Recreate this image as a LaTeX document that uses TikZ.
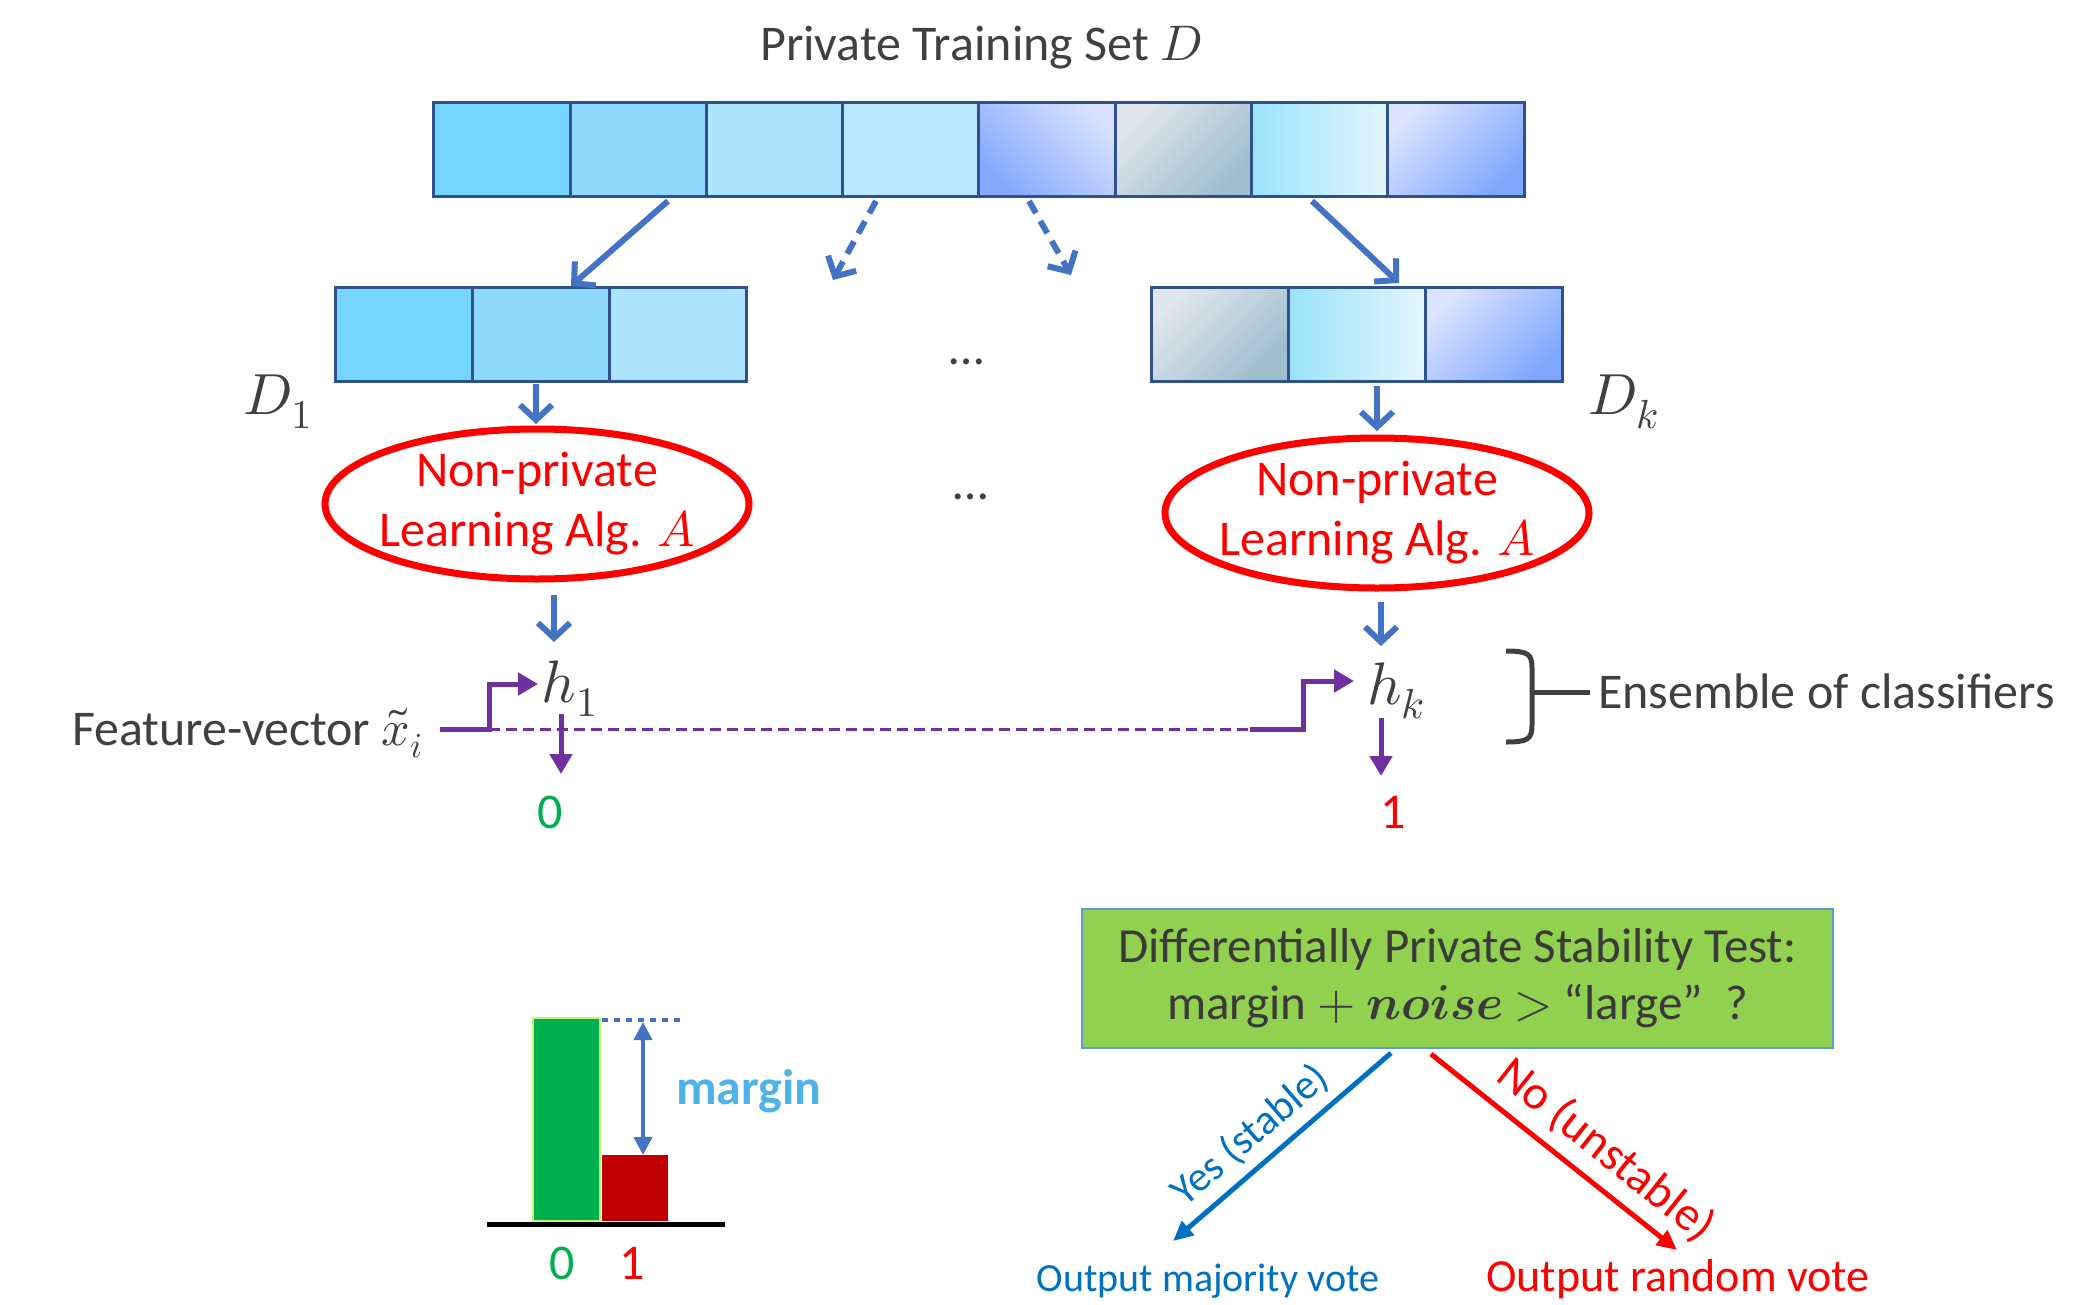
\documentclass[tikz,border=0pt]{standalone}
\usepackage{fontspec}
\usepackage{unicode-math}
\setmainfont{Carlito}
\setmathfont{Latin Modern Math}
\usetikzlibrary{arrows.meta,shapes.geometric}
\definecolor{txt}{HTML}{404040}
\definecolor{cellborder}{HTML}{2F528F}
\definecolor{arrowblue}{HTML}{4472C4}
\definecolor{purp}{HTML}{7030A0}
\definecolor{cA}{HTML}{75D5FF}
\definecolor{cB}{HTML}{8FDAFC}
\definecolor{cC}{HTML}{ADE4FD}
\definecolor{cD}{HTML}{B9E7FD}
\definecolor{gEa}{HTML}{86A9FF}
\definecolor{gEb}{HTML}{D7E1FF}
\definecolor{gFa}{HTML}{E1E7ED}
\definecolor{gFb}{HTML}{9EBDCD}
\definecolor{gGa}{HTML}{9BE3FB}
\definecolor{gGb}{HTML}{E3F6FD}
\definecolor{gHa}{HTML}{DCE3FF}
\definecolor{gHb}{HTML}{7FA7FF}
\definecolor{okgreen}{HTML}{00B050}
\definecolor{boxgreen}{HTML}{92D050}
\definecolor{boxedge}{HTML}{5B9BD5}
\definecolor{darkred}{HTML}{C00000}
\definecolor{yesblue}{HTML}{0070C0}
\definecolor{marginblue}{HTML}{4DB3E8}
\definecolor{boxtext}{HTML}{3A3A3A}
\definecolor{baredge}{HTML}{C8F078}
\tikzset{
  cellbase/.style={draw=cellborder, line width=3pt, minimum height=94pt, inner sep=0pt},
  topcell/.style={cellbase, minimum width=136.25pt},
  subcell/.style={cellbase, minimum width=137.3pt},
  cellA/.style={fill=cA}, cellB/.style={fill=cB}, cellC/.style={fill=cC}, cellD/.style={fill=cD},
  cellE/.style={top color=gEa, bottom color=gEb, shading angle=135},
  cellF/.style={top color=gFa, bottom color=gFb, shading angle=45},
  cellG/.style={top color=gGa, bottom color=gGb, shading angle=90},
  cellH/.style={top color=gHa, bottom color=gHb, shading angle=45},
  bigtext/.style={font=\fontsize{50}{60}\selectfont, text=txt, inner sep=0pt},
  alg/.style={ellipse, draw=red, line width=7pt, minimum width=424pt, minimum height=150pt, inner sep=0pt},
  algtext/.style={inner sep=0pt, align=center, text=red, font=\fontsize{50}{60}\selectfont},
  bluearrow/.style={draw=arrowblue, line width=6pt, -{Straight Barb[length=15pt,width=32pt,line width=6pt]}},
  purparrow/.style={draw=purp, line width=5pt, -{Triangle[length=20pt,width=22pt]}},
}
\begin{document}
\begin{tikzpicture}[x=1pt,y=-1pt]
\useasboundingbox (0,0) rectangle (2074,1304);

% title
\node[bigtext, anchor=base] (title) at (981,60) {Private Training Set $D$};

% top bar
\node[topcell, cellA] (t1) at (502.1,149) {};
\node[topcell, cellB] (t2) at (638.4,149) {};
\node[topcell, cellC] (t3) at (774.6,149) {};
\node[topcell, cellD] (t4) at (910.9,149) {};
\node[topcell, cellE] (t5) at (1047.1,149) {};
\node[topcell, cellF] (t6) at (1183.4,149) {};
\node[topcell, cellG] (t7) at (1319.6,149) {};
\node[topcell, cellH] (t8) at (1455.9,149) {};

% sub bars
\node[subcell, cellA] (d11) at (403.7,334) {};
\node[subcell, cellB] (d12) at (541,334) {};
\node[subcell, cellC] (d13) at (678.3,334) {};
\node[subcell, cellF] (dk1) at (1219.7,334) {};
\node[subcell, cellG] (dk2) at (1357,334) {};
\node[subcell, cellH] (dk3) at (1494.3,334) {};

\node[bigtext, font=\fontsize{58}{60}\selectfont, anchor=base] (lD1) at (278,414) {$D_1$};
\node[bigtext, font=\fontsize{58}{60}\selectfont, anchor=base] (lDk) at (1624,414) {$D_k$};

% partition arrows
\coordinate (a1s) at (668,201); \coordinate (a1e) at (571,286);
\coordinate (a2s) at (876,201); \coordinate (a2e) at (833,280);
\coordinate (a3s) at (1029,201); \coordinate (a3e) at (1071,275);
\coordinate (a4s) at (1312,201); \coordinate (a4e) at (1399,283);
\draw[bluearrow] (a1s) -- (a1e);
\draw[bluearrow, dash pattern=on 14pt off 9pt] (a2s) -- (a2e);
\draw[bluearrow, dash pattern=on 14pt off 9pt] (a3s) -- (a3e);
\draw[bluearrow] (a4s) -- (a4e);

\node[bigtext, anchor=base] (dots1) at (967,364) {\ldots};
\node[bigtext, anchor=base] (dots2) at (971,499) {\ldots};

% learning algorithms
\node[alg] (e1) at (537,504) {};
\node[algtext] (e1t) at (e1.center) {Non-private\\Learning Alg. $A$};
\node[alg] (ek) at (1377,513) {};
\node[algtext] (ekt) at (ek.center) {Non-private\\Learning Alg. $A$};

\coordinate (d1o) at (536,384); \coordinate (e1i) at (536,424);
\coordinate (dko) at (1377,386); \coordinate (eki) at (1377,431);
\draw[bluearrow] (d1o) -- (e1i);
\draw[bluearrow] (dko) -- (eki);

\coordinate (e1o) at (554,595); \coordinate (h1i) at (554,642);
\coordinate (eko) at (1381,602); \coordinate (hki) at (1381,646);
\draw[bluearrow] (e1o) -- (h1i);
\draw[bluearrow] (eko) -- (hki);

% classifiers
\node[bigtext, font=\fontsize{60}{60}\selectfont, anchor=base] (h1) at (570,702) {$h_1$};
\node[bigtext, font=\fontsize{60}{60}\selectfont, anchor=base] (hk) at (1396,704) {$h_k$};

\node[bigtext, anchor=base east] (fv) at (423,745) {Feature-vector $\tilde{x}_i$};

\coordinate (fv0) at (440,729);
\coordinate (fv1) at (489,729);
\coordinate (fvh1) at (538,684);
\coordinate (fv2) at (1250,729);
\coordinate (fv3) at (1303,729);
\coordinate (fvhk) at (1354,681);
\draw[purparrow] (fv0) -- (fv1) |- (fvh1);
\draw[draw=purp, line width=3pt, dash pattern=on 11pt off 6pt] (fv1) -- (fv2);
\draw[purparrow] (fv2) -- (fv3) |- (fvhk);

\coordinate (h1o) at (561,714); \coordinate (v1i) at (561,774);
\coordinate (hko) at (1381,718); \coordinate (vki) at (1381,776);
\draw[purparrow] (h1o) -- (v1i);
\draw[purparrow] (hko) -- (vki);

\node[bigtext, text=okgreen, anchor=base] (v1) at (550,828) {0};
\node[bigtext, text=red, anchor=base] (vk) at (1393,828) {1};

% ensemble brace
\coordinate (brT) at (1506,651);
\coordinate (brB) at (1506,742);
\coordinate (brM) at (1532,692);
\coordinate (brE) at (1590,692);
\draw[txt, line width=5pt] (brT) .. controls (1528,651) and (1532,654) .. (1532,668)
   -- (1532,725) .. controls (1532,739) and (1528,742) .. (brB);
\draw[txt, line width=5pt] (brM) -- (brE);
\node[bigtext, anchor=base west] (ens) at (1598,708) {Ensemble of classifiers};

% bar chart
\fill[okgreen] (533,1018) rectangle (600,1221);
\draw[draw=baredge, line width=1.5pt] (533,1018) rectangle (600,1221);
\fill[darkred] (602,1155) rectangle (668,1221);
\coordinate (ax0) at (487,1224); \coordinate (ax1) at (725,1224);
\draw[black, line width=5pt] (ax0) -- (ax1);
\coordinate (dt0) at (602,1020); \coordinate (dt1) at (680,1020);
\draw[arrowblue, line width=4.5pt, dash pattern=on 6pt off 6pt] (dt0) -- (dt1);
\coordinate (mg0) at (643,1022); \coordinate (mg1) at (643,1155);
\draw[arrowblue, line width=4pt, {Triangle[length=18pt,width=18pt]}-{Triangle[length=18pt,width=18pt]}] (mg0) -- (mg1);
\node[bigtext, text=marginblue, font=\fontsize{50}{60}\selectfont\bfseries, anchor=base] (mg) at (749,1104) {margin};
\node[bigtext, text=okgreen, anchor=base] (b0) at (562,1279) {0};
\node[bigtext, text=red, anchor=base] (b1) at (632,1279) {1};

% stability test
\node[fill=boxgreen, draw=boxedge, line width=1.5pt, minimum width=751pt, minimum height=139pt,
      inner sep=0pt, align=center, text=boxtext, font=\fontsize{49}{57}\selectfont] (test) at (1457.5,978.5)
  {Differentially Private Stability Test:\\margin $+$ $\symbfit{noise}$ $>$ “large”~~?};

\coordinate (ys) at (1391,1053); \coordinate (ye) at (1173,1241);
\coordinate (ns) at (1431,1054); \coordinate (ne) at (1677,1250);
\draw[yesblue, line width=5pt, -{Triangle[length=20pt,width=18pt]}] (ys) -- (ye);
\draw[red, line width=5pt, -{Triangle[length=20pt,width=18pt]}] (ns) -- (ne);
\node[inner sep=0pt, text=yesblue, font=\fontsize{42}{50}\selectfont, rotate=40.8] (yes) at (1250,1135) {Yes (stable)};
\node[inner sep=0pt, text=red, font=\fontsize{48}{56}\selectfont, rotate=-38.5] (no) at (1606,1150) {No (unstable)};

\node[inner sep=0pt, text=yesblue, font=\fontsize{40}{50}\selectfont, anchor=base] (omaj) at (1208,1291) {Output majority vote};
\node[inner sep=0pt, text=red, font=\fontsize{46}{50}\selectfont, anchor=base] (orand) at (1678,1291) {Output random vote};
\end{tikzpicture}
\end{document}
